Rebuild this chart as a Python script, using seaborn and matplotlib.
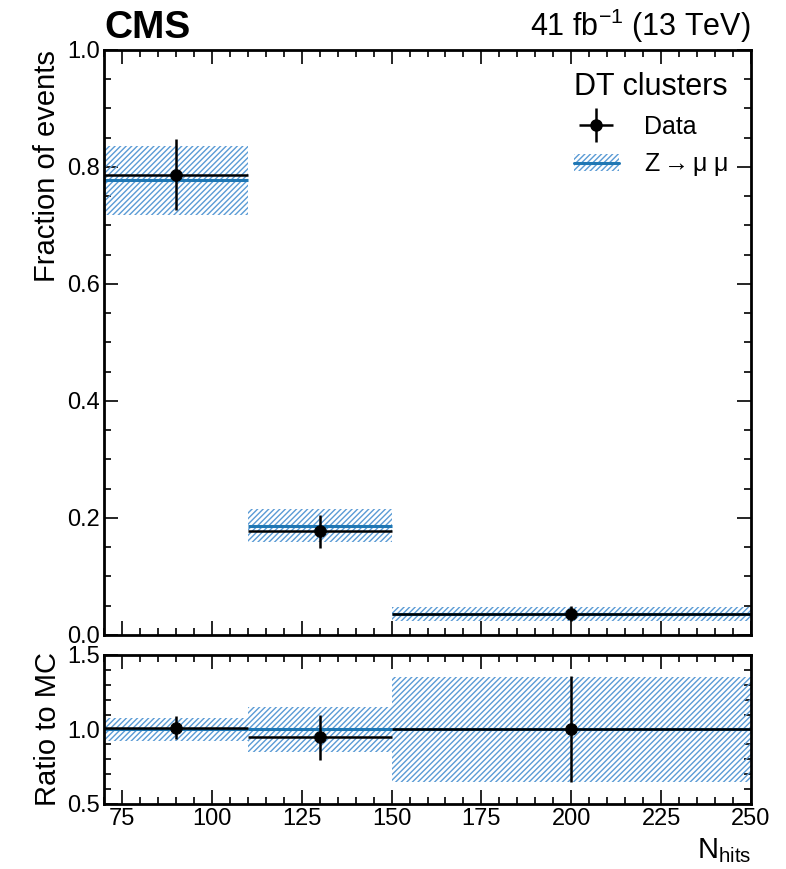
import matplotlib
matplotlib.use("Agg")
import matplotlib.pyplot as plt
import numpy as np
import seaborn as sns
from matplotlib.patches import Patch
from matplotlib.lines import Line2D
from matplotlib.ticker import MultipleLocator

# binned N_hits fractions, DT clusters
bin_edges = [70, 110, 150, 250]
data_frac = [0.787, 0.177, 0.036]
data_err = [0.060, 0.028, 0.0128]
mc_frac = [0.777, 0.187, 0.036]
mc_rel_err = [0.075, 0.152, 0.350]

sns.set_theme(style="ticks")
plt.rcParams['font.family'] = ['Liberation Sans', 'DejaVu Sans']
plt.rcParams['mathtext.fontset'] = 'custom'
plt.rcParams['mathtext.rm'] = 'Liberation Sans'
plt.rcParams['mathtext.it'] = 'Liberation Sans:italic'
for k in ['text.color', 'axes.labelcolor', 'xtick.color', 'ytick.color']:
    plt.rcParams[k] = 'black'
plt.rcParams['hatch.linewidth'] = 1.0
plt.rcParams['hatch.color'] = '#5a9bd5'

edges = np.array(bin_edges, dtype=float)
centers = 0.5 * (edges[1:] + edges[:-1])
half = 0.5 * np.diff(edges)
data = np.array(data_frac)
derr = np.array(data_err)
mc = np.array(mc_frac)
rel = np.array(mc_rel_err)

blue = '#1f77b4'
hatch_col = '#5a9bd5'

fig = plt.figure(figsize=(7.86, 8.69), dpi=100)
ax = fig.add_axes([0.1323, 0.2693, 0.8232, 0.6732])
rax = fig.add_axes([0.1323, 0.0748, 0.8232, 0.1715], sharex=ax)


def style(a):
    a.tick_params(which='both', direction='in', top=True, right=True,
                  labelsize=17, width=1.2, pad=3)
    a.tick_params(which='major', length=10)
    a.tick_params(which='minor', length=5)
    for s in a.spines.values():
        s.set_linewidth(2)
        s.set_color('black')


# main panel
ax.stairs(mc * (1 + rel), edges, baseline=mc * (1 - rel), fill=True,
          facecolor='none', edgecolor=hatch_col, hatch='//////', linewidth=0)
ax.hlines(mc, edges[:-1], edges[1:], color=blue, linewidth=2.2)
ax.errorbar(centers, data, xerr=half, yerr=derr, fmt='none', ecolor='black',
            elinewidth=1.8)
sns.scatterplot(x=centers, y=data, ax=ax, color='black', s=70,
                edgecolor='black', zorder=5, legend=False)
ax.set_xlim(70, 250)
ax.set_ylim(0, 1.0)
ax.yaxis.set_major_locator(MultipleLocator(0.2))
ax.yaxis.set_minor_locator(MultipleLocator(0.05))
ax.xaxis.set_major_locator(MultipleLocator(25))
ax.xaxis.set_minor_locator(MultipleLocator(5))
ax.set_ylabel('Fraction of events', fontsize=21, loc='top')
style(ax)
ax.tick_params(labelbottom=False)

ax.text(0.0, 1.006, 'CMS', transform=ax.transAxes, fontsize=28,
        fontweight='bold', ha='left', va='bottom')
ax.text(1.0, 1.008, r'41 fb$^{-1}$ (13 TeV)', transform=ax.transAxes,
        fontsize=22, ha='right', va='bottom')

h_data = (Line2D([], [], color='black', marker='+', markersize=24,
                 markeredgewidth=1.8, linestyle='none'),
          Line2D([], [], color='black', marker='o', markersize=8,
                 linestyle='none'))
h_mc_band = Patch(facecolor='none', edgecolor=hatch_col, hatch='//////',
                  linewidth=0)
h_mc_line = Line2D([], [], color=blue, linewidth=2.2)
leg = ax.legend([h_data, (h_mc_band, h_mc_line)],
                ['Data', r'Z$\rightarrow$μ μ'],
                title='DT clusters', loc='upper right', frameon=False,
                fontsize=18, title_fontsize=22, handlelength=1.8,
                borderaxespad=0.5, labelspacing=0.5, handletextpad=1.0)

# ratio panel
ratio = data / mc
ratio_err = derr / mc
ones = np.ones_like(mc)
rax.stairs(1 + rel, edges, baseline=1 - rel, fill=True,
           facecolor='none', edgecolor=hatch_col, hatch='//////', linewidth=0)
rax.hlines(ones, edges[:-1], edges[1:], color=blue, linewidth=2.2)
rax.errorbar(centers, ratio, xerr=half, yerr=ratio_err, fmt='none',
             ecolor='black', elinewidth=1.8)
sns.scatterplot(x=centers, y=ratio, ax=rax, color='black', s=70,
                edgecolor='black', zorder=5, legend=False)
rax.set_ylim(0.5, 1.5)
rax.yaxis.set_major_locator(MultipleLocator(0.5))
rax.yaxis.set_minor_locator(MultipleLocator(0.1))
rax.set_ylabel('Ratio to MC', fontsize=21)
rax.set_xlabel(r'N$_{\mathrm{hits}}$', fontsize=21, loc='right')
style(rax)
fig.align_ylabels([ax, rax])

fig.savefig('out.png', dpi=100)
